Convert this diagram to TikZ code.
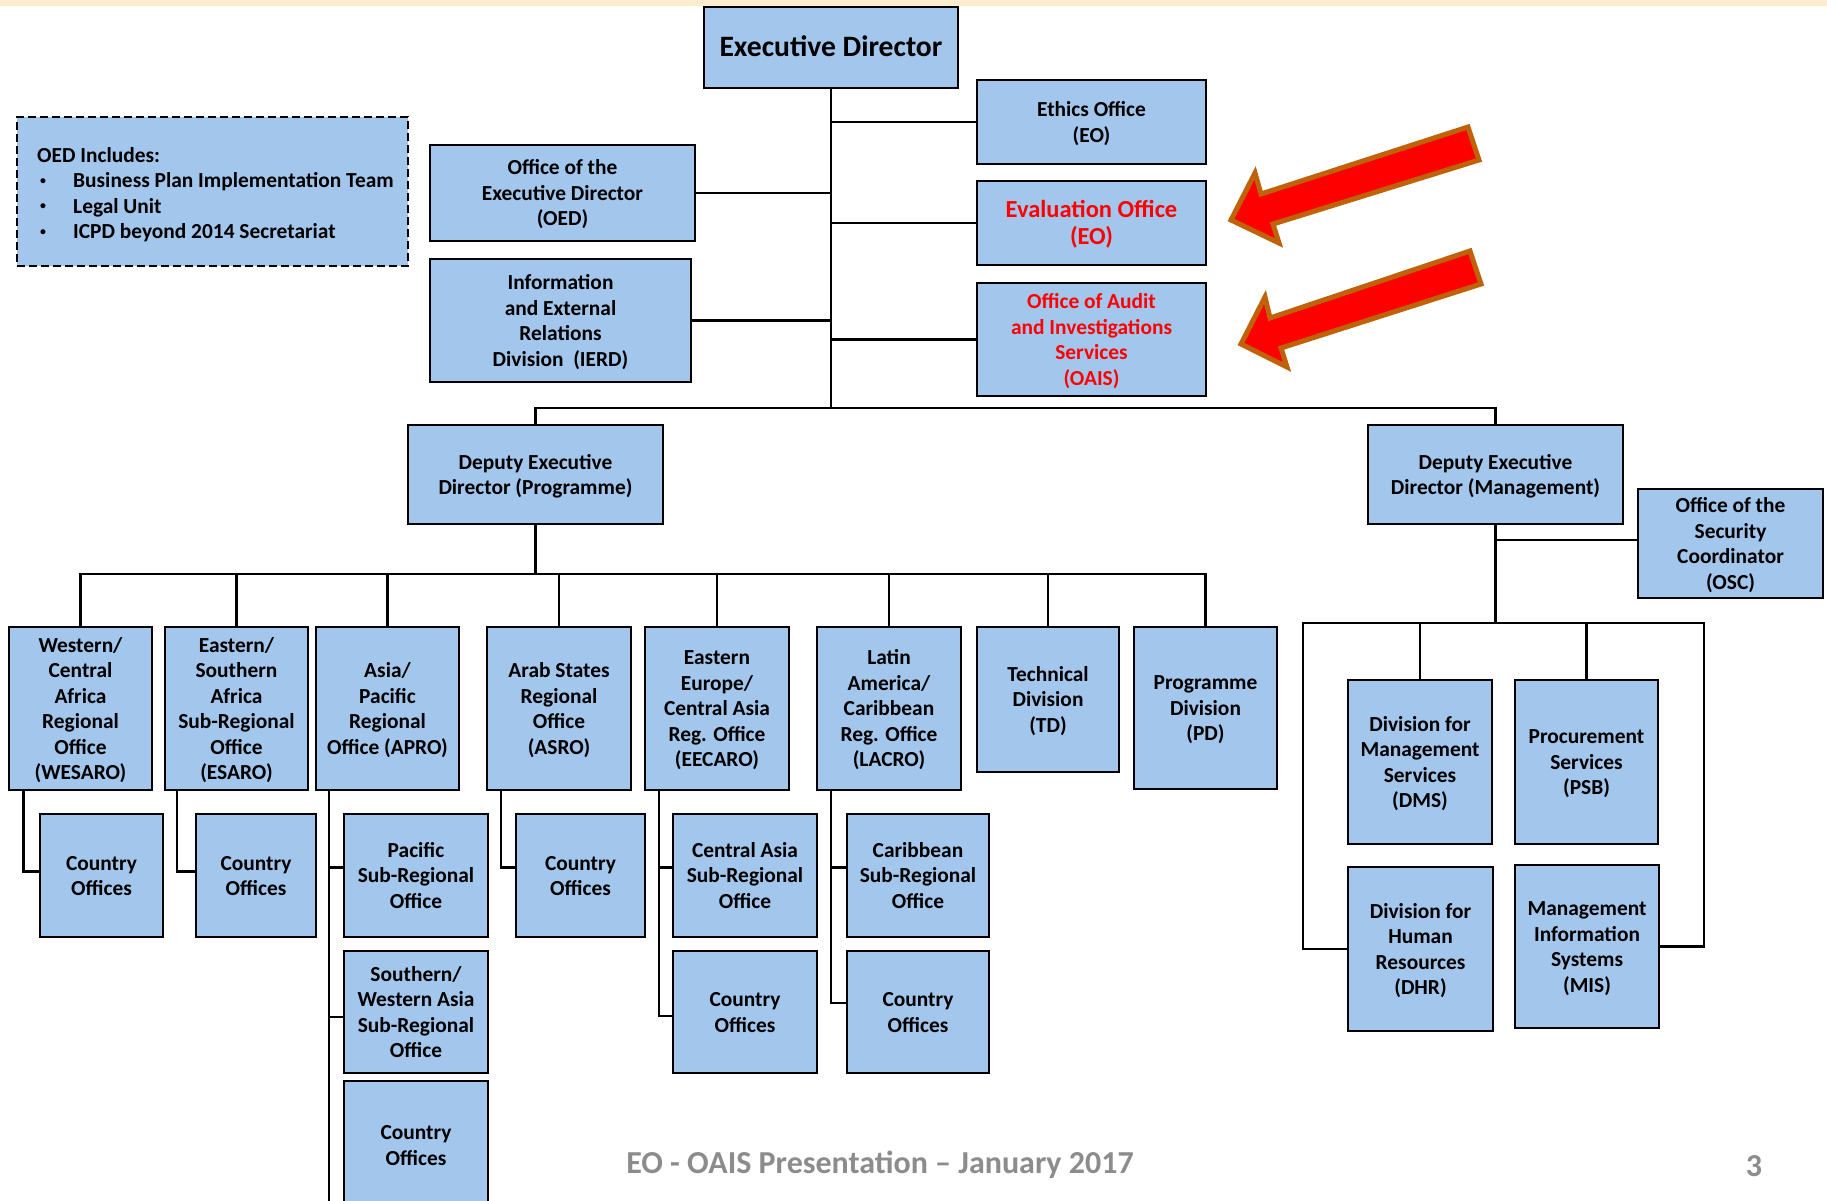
\documentclass[tikz,border=0pt]{standalone}
\usepackage{fontspec}
\setmainfont{Carlito}
\definecolor{boxblue}{RGB}{162,198,236}
\definecolor{band}{RGB}{255,236,204}
\definecolor{arrowred}{RGB}{255,0,0}
\definecolor{arrowedge}{RGB}{191,98,10}
\definecolor{footgray}{RGB}{140,140,140}
\definecolor{alertred}{RGB}{255,0,0}

% struts that give every text block the same line metrics, set a little low
\newcommand\ocfirst{\rule{0pt}{\dimexpr0.7\baselineskip+2.3pt\relax}}
\newcommand\oclast{\rule[\dimexpr-0.3\baselineskip+2.3pt\relax]{0pt}{\dimexpr0.3\baselineskip-2.3pt\relax}}
% small list bullet
\newcommand\ocbullet{\raisebox{3.2pt}{\scalebox{0.55}{•}}}

% box given by its left, top, right and bottom edges
\newcommand\ocbox[7][]{%
  \node[orgbox,minimum width={(#5-#3)*1pt},minimum height={(#6-#4)*1pt},#1]
    (#2) at ({(#3+#5)/2},{(#4+#6)/2}) {\ocfirst#7\oclast};}

\begin{document}
\begin{tikzpicture}[x=1pt,y=-1pt,
  orgbox/.style={draw=black,line width=2pt,fill=boxblue,inner sep=0pt,
    align=center,font=\fontsize{21.4}{25.5}\selectfont\bfseries},
  conn/.style={draw=black,line width=2.2pt},
  alert/.style={text=alertred},
  bigarrow/.style={fill=arrowred,draw=arrowedge,line width=5pt,line join=miter},
  footer/.style={text=footgray,font=\fontsize{32}{36}\selectfont\bfseries,inner sep=0pt,anchor=base}]

\useasboundingbox (0,0) rectangle (1827,1201);
\clip (0,0) rectangle (1827,1201);
\fill[white] (0,0) rectangle (1827,1201);
\fill[band] (0,0) rectangle (1827,6);

% top level
\ocbox[font=\fontsize{29.6}{34}\selectfont\bfseries]{ed}{704}{7}{958}{88}{Executive Director}
\ocbox{oed}{430}{145}{695}{241}{Office of the\\Executive Director\\(OED)}
\ocbox{ierd}{430}{259}{691}{382}{Information\\and External\\Relations\\Division~~(IERD)}
\ocbox{eth}{977}{80}{1206}{164}{Ethics Office\\(EO)}
\ocbox[alert,font=\fontsize{24.5}{27.5}\selectfont\bfseries]{eval}{977}{181}{1206}{265}{Evaluation Office\\(EO)}
\ocbox[alert]{oais}{977}{283}{1206}{396}{Office of Audit\\and Investigations\\Services\\(OAIS)}

% note on the executive office
\node[orgbox,dashed,dash pattern=on 8pt off 4pt,minimum width=391pt,minimum height=149pt]
  (note) at (212.5,191.5) {};
\node[anchor=west,inner sep=0pt,align=left,font=\fontsize{21.4}{25.5}\selectfont\bfseries]
  (notetext) at (37,194.5)
  {OED Includes:\\
   \hspace*{3pt}\makebox[33pt][l]{\ocbullet}Business Plan Implementation Team\\
   \hspace*{3pt}\makebox[33pt][l]{\ocbullet}Legal Unit\\
   \hspace*{3pt}\makebox[33pt][l]{\ocbullet}ICPD beyond 2014 Secretariat};

% deputies
\ocbox{dedp}{408}{425}{663}{524}{Deputy Executive\\Director (Programme)}
\ocbox{dedm}{1368}{425}{1623}{524}{Deputy Executive\\Director (Management)}
\ocbox{osc}{1638}{489}{1823}{598}{Office of the\\Security\\Coordinator\\(OSC)}

% programme side
\ocbox{wes}{9}{627}{152}{790}{Western/\\Central\\Africa\\Regional\\Office\\(WESARO)}
\ocbox{esa}{165}{627}{308}{790}{Eastern/\\Southern\\Africa\\Sub-Regional\\Office\\(ESARO)}
\ocbox{apr}{316}{627}{459}{790}{Asia/\\Pacific\\Regional\\Office (APRO)}
\ocbox{asr}{487}{627}{631}{790}{Arab States\\Regional\\Office\\(ASRO)}
\ocbox{eec}{645}{627}{789}{790}{Eastern\\Europe/\\Central Asia\\Reg. Office\\(EECARO)}
\ocbox{lac}{817}{627}{961}{790}{Latin\\America/\\Caribbean\\Reg. Office\\(LACRO)}
\ocbox{td}{977}{627}{1119}{772}{Technical\\Division\\(TD)}
\ocbox{pd}{1134}{627}{1277}{789}{Programme\\Division\\(PD)}

\ocbox{co1}{40}{814}{163}{937}{Country\\Offices}
\ocbox{co2}{196}{814}{316}{937}{Country\\Offices}
\ocbox{pac}{344}{814}{488}{937}{Pacific\\Sub-Regional\\Office}
\ocbox{swa}{344}{951}{488}{1073}{Southern/\\Western Asia\\Sub-Regional\\Office}
\ocbox{co3}{344}{1081}{488}{1209}{Country\\Offices}
\ocbox{co4}{516}{814}{645}{937}{Country\\Offices}
\ocbox{cas}{673}{814}{817}{937}{Central Asia\\Sub-Regional\\Office}
\ocbox{co5}{673}{951}{817}{1073}{Country\\Offices}
\ocbox{car}{847}{814}{989}{937}{Caribbean\\Sub-Regional\\Office}
\ocbox{co6}{847}{951}{989}{1073}{Country\\Offices}

% management side
\ocbox{dms}{1348}{680}{1492}{844}{Division for\\Management\\Services\\(DMS)}
\ocbox{psb}{1515}{680}{1658}{844}{Procurement\\Services\\(PSB)}
\ocbox{dhr}{1348}{867}{1493}{1031}{Division for\\Human\\Resources\\(DHR)}
\ocbox{mis}{1515}{865}{1659}{1028}{Management\\Information\\Systems\\(MIS)}

% connectors
\coordinate (bus1) at (831,408);
\coordinate (bus2) at (535.5,574);
\coordinate (bus3) at (1495.5,623);
\coordinate (brL) at (1303,623);
\coordinate (brR) at (1704,623);

\draw[conn] (ed.south) -- (bus1);
\draw[conn] (oed.east) -- (oed.east -| ed.south);
\draw[conn] (ierd.east) -- (ierd.east -| ed.south);
\draw[conn] (eth.west) -- (eth.west -| ed.south);
\draw[conn] (eval.west) -- (eval.west -| ed.south);
\draw[conn] (oais.west) -- (oais.west -| ed.south);
\draw[conn] (dedp.north) |- (bus1) -| (dedm.north);

\draw[conn] (dedp.south) -- (bus2);
\foreach \r in {wes,esa,apr,asr,eec,lac,td,pd}
  \draw[conn] (bus2) -| (\r.north);

\draw[conn] ([xshift=15.5pt]wes.south west) |- ([yshift=4pt]co1.west);
\draw[conn] ([xshift=13pt]esa.south west) |- ([yshift=4pt]co2.west);
\draw[conn] ([xshift=14pt]apr.south west) |- ([yshift=-57pt]co3.west);
\draw[conn] ([xshift=14pt]apr.south west) |- ([yshift=-5pt]swa.west);
\draw[conn] ([xshift=14pt]apr.south west) |- ([yshift=8pt]pac.west);
\draw[conn] ([xshift=15pt]asr.south west) |- ([yshift=8pt]co4.west);
\draw[conn] ([xshift=15pt]eec.south west) |- ([yshift=-4pt]co5.west);
\draw[conn] ([xshift=15pt]eec.south west) |- ([yshift=8pt]cas.west);
\draw[conn] ([xshift=15pt]lac.south west) |- ([yshift=9pt]co6.west);
\draw[conn] ([xshift=15pt]lac.south west) |- ([yshift=8pt]car.west);

\draw[conn] (dedm.south) -- (bus3);
\draw[conn] ([yshift=3.5pt]osc.west) -- ([yshift=3.5pt]osc.west -| dedm.south);
\draw[conn] (dhr.west) -| (brL) -- (brR) |- (mis.east);
\draw[conn] (dms.north) -- (dms.north |- brL);
\draw[conn] (psb.north) -- (psb.north |- brL);

% block arrows pointing at the two offices
\draw[bigarrow] (1231,220) -- (1255,173) -- (1261,194) -- (1468,127)
  -- (1479,160) -- (1273,224) -- (1279,243) -- cycle;
\draw[bigarrow] (1241,344) -- (1265,297) -- (1270,318) -- (1470,251)
  -- (1481,284) -- (1281,348) -- (1287,367) -- cycle;

% footer
\node[footer] (foot) at (880,1173) {EO - OAIS Presentation – January 2017};
\node[footer] (pnum) at (1754,1176) {3};
\end{tikzpicture}
\end{document}
